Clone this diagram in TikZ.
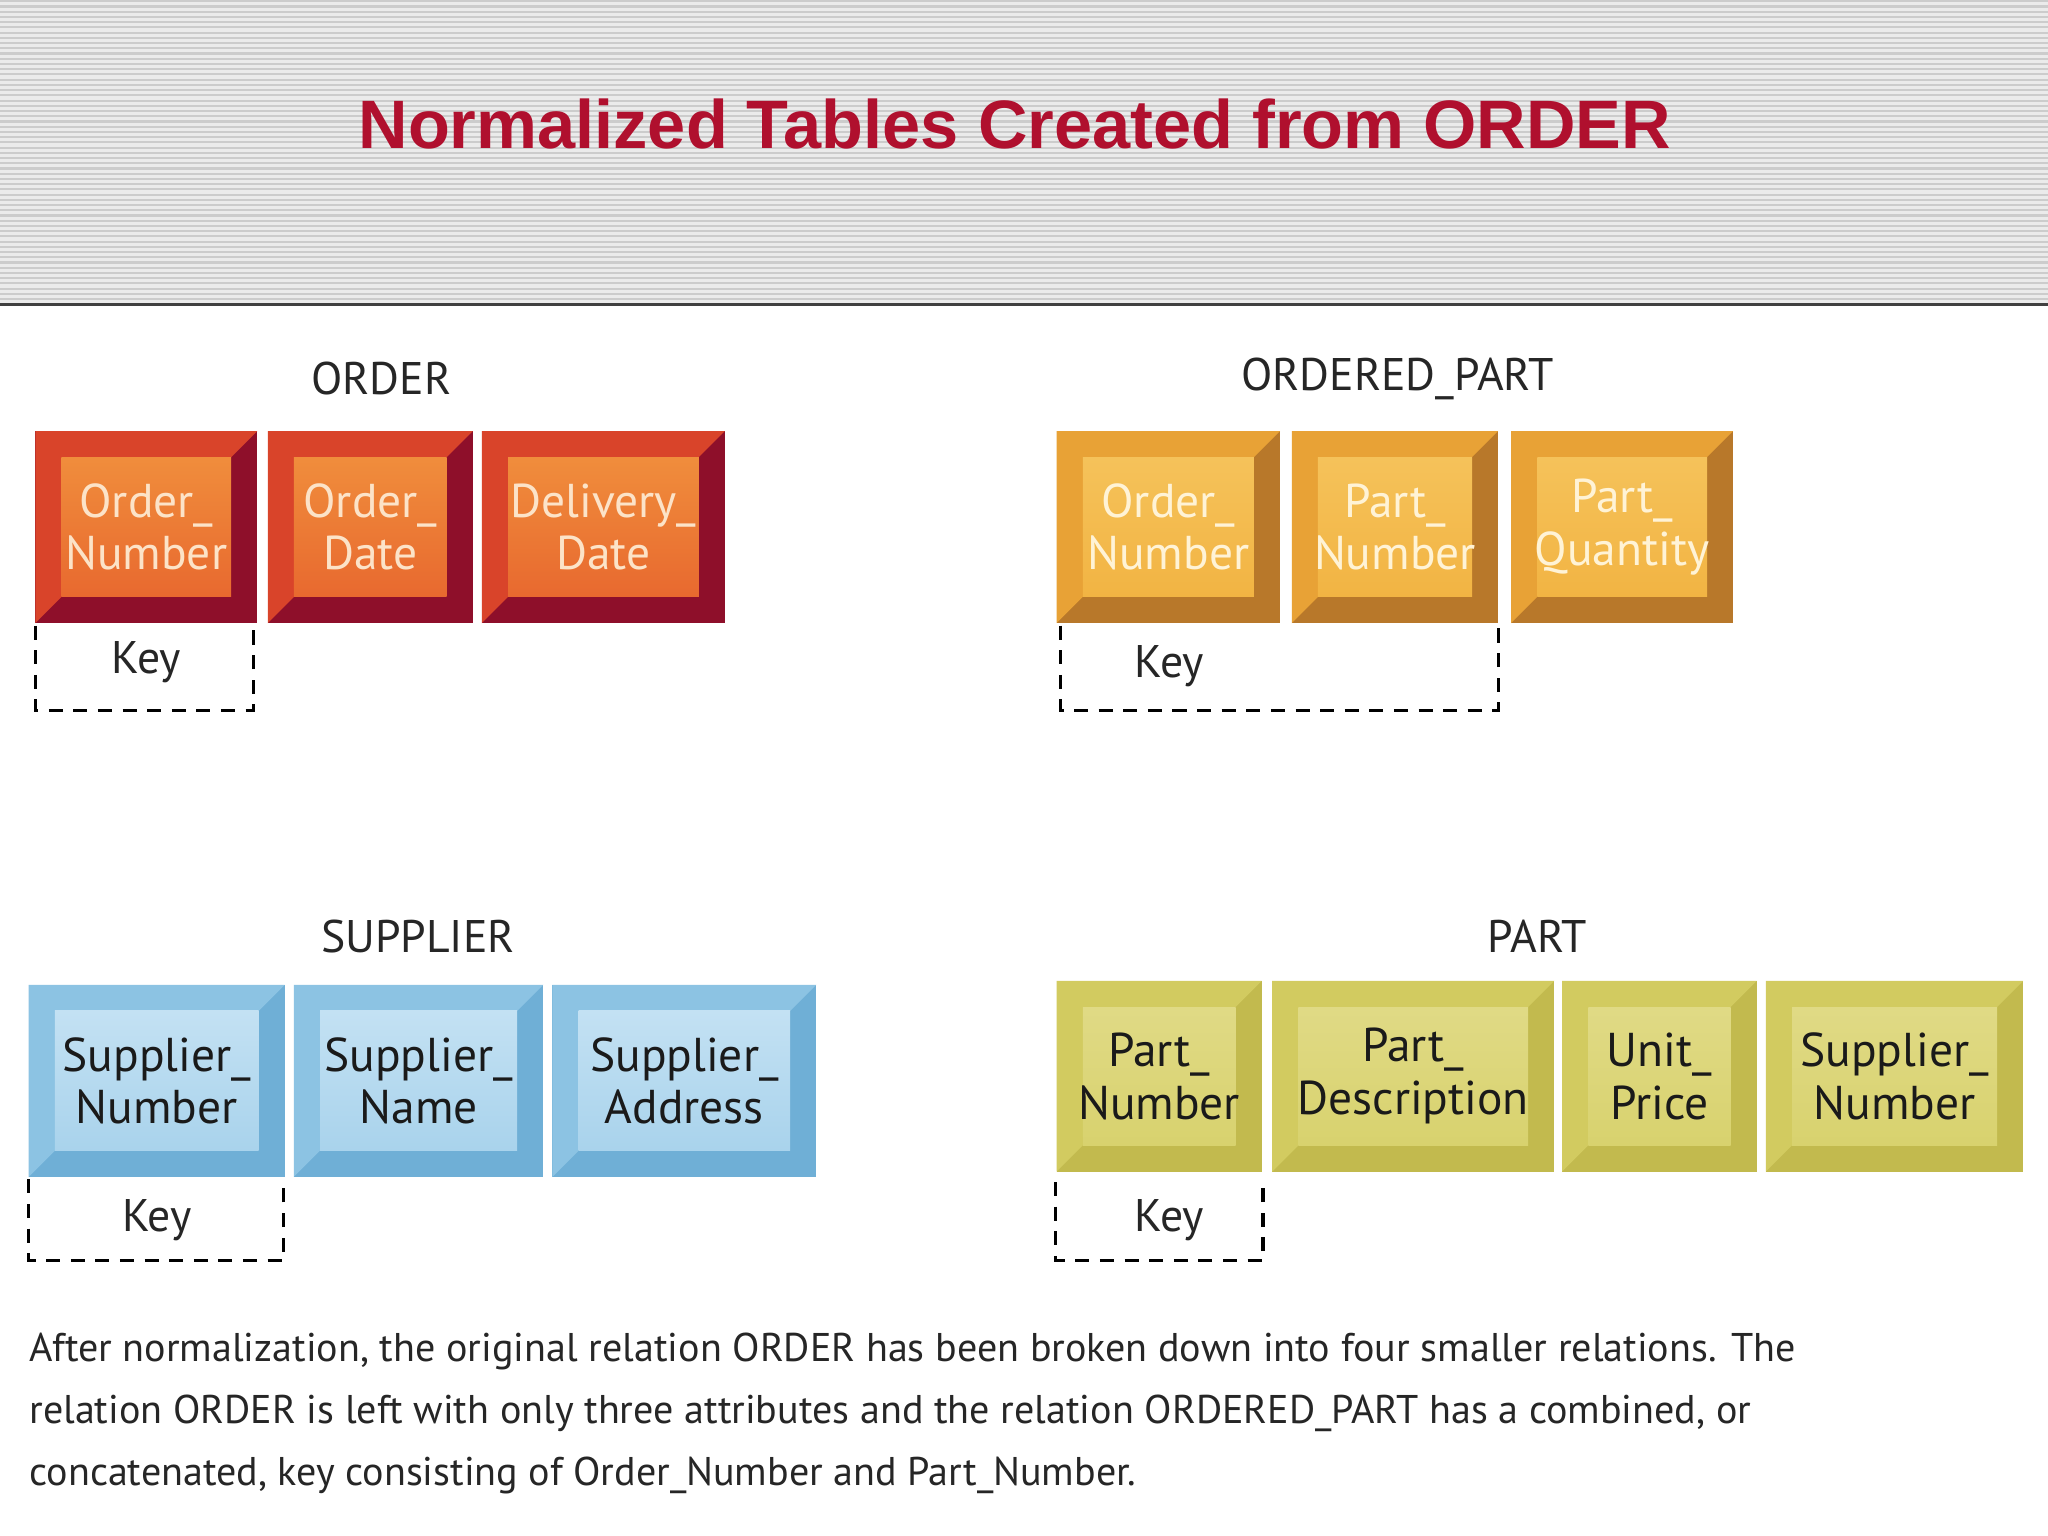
\documentclass[tikz,border=0pt]{standalone}
\usepackage{fontspec}
\setmainfont{PT Sans}
\newfontfamily\titlefont{Liberation Sans}
\definecolor{ttl}{HTML}{B0102E}
\definecolor{oD}{HTML}{8E0F2A}\definecolor{oL}{HTML}{D9442A}\definecolor{oF}{HTML}{E8692F}\definecolor{oF2}{HTML}{F08D3C}\definecolor{oT}{HTML}{FCE3C8}
\definecolor{yD}{HTML}{B8782A}\definecolor{yL}{HTML}{E8A236}\definecolor{yF}{HTML}{F2B443}\definecolor{yF2}{HTML}{F5C25A}\definecolor{yT}{HTML}{FFF3D6}
\definecolor{bD}{HTML}{6FAFD6}\definecolor{bL}{HTML}{8CC3E3}\definecolor{bF}{HTML}{A9D3EC}\definecolor{bF2}{HTML}{C3E1F3}\definecolor{bT}{HTML}{1A1A1A}
\definecolor{gD}{HTML}{C2BA4E}\definecolor{gL}{HTML}{D2CB60}\definecolor{gF}{HTML}{D8D26E}\definecolor{gF2}{HTML}{E0DA85}\definecolor{gT}{HTML}{1A1A1A}
\newcommand{\bevbox}[7]{% name x1 y1 x2 y2 prefix text
  \fill[#6D] (#2,#3) rectangle (#4,#5);
  \fill[#6L] (#2,#3) -- (#4,#3) -- (#4-20,#3+20) -- (#2+20,#5-20) -- (#2,#5) -- cycle;
  \shade[top color=#6F2,bottom color=#6F] (#2+20,#3+20) rectangle (#4-20,#5-20);
  \node[boxtxt,text=#6T] (#1) at ({(#2+#4)/2},{(#3+#5)/2}) {#7};}
\tikzset{boxtxt/.style={font=\fontsize{13.5}{15}\selectfont,align=center,inner sep=0pt},
 ttlbl/.style={font=\fontsize{13}{14}\selectfont,text=black!85},
 keybox/.style={draw,dashed,line width=0.9pt,dash pattern=on 4pt off 3pt},
 keytxt/.style={font=\fontsize{13}{14}\selectfont,text=black!85}}
\begin{document}
\begin{tikzpicture}[x=0.01306cm,y=-0.01306cm]
\useasboundingbox (0,0) rectangle (1568,1176);
\fill[white] (0,0) rectangle (1568,1176);
\fill[black!8] (0,0) rectangle (1568,232);
\foreach \yy in {1,5,...,229} \draw[black!20,line width=0.6pt] (0,\yy) -- (1568,\yy);
\draw[black!75,line width=1pt] (0,233) -- (1568,233);
\node[font=\titlefont\bfseries\fontsize{19.5}{21}\selectfont,text=ttl] (title) at (777,95) {Normalized Tables Created from ORDER};
% ORDER
\node[ttlbl] (tOrder) at (292,290) {ORDER};
\bevbox{o1}{27}{330}{197}{477}{o}{Order\_\\Number}
\bevbox{o2}{205}{330}{362}{477}{o}{Order\_\\Date}
\bevbox{o3}{369}{330}{555}{477}{o}{Delivery\_\\Date}
\draw[keybox] (27,479) -- (27,544) -- (194,544) -- (194,479);
\node[keytxt] (k1) at (112,507) {Key};
% ORDERED_PART
\node[ttlbl] (tOP) at (1070,290) {ORDERED\_PART};
\bevbox{p1}{809}{330}{980}{477}{y}{Order\_\\Number}
\bevbox{p2}{989}{330}{1147}{477}{y}{Part\_\\Number}
\bevbox{p3}{1157}{330}{1327}{477}{y}{Part\_\\Quantity}
\draw[keybox] (812,479) -- (812,544) -- (1147,544) -- (1147,479);
\node[keytxt] (k2) at (895,510) {Key};
% SUPPLIER
\node[ttlbl] (tS) at (320,717) {SUPPLIER};
\bevbox{s1}{22}{754}{218}{901}{b}{Supplier\_\\Number}
\bevbox{s2}{225}{754}{416}{901}{b}{Supplier\_\\Name}
\bevbox{s3}{423}{754}{625}{901}{b}{Supplier\_\\Address}
\draw[keybox] (22,903) -- (22,965) -- (217,965) -- (217,903);
\node[keytxt] (k3) at (120,934) {Key};
% PART
\node[ttlbl] (tP) at (1177,717) {PART};
\bevbox{q1}{809}{751}{966}{897}{g}{Part\_\\Number}
\bevbox{q2}{974}{751}{1190}{897}{g}{Part\_\\Description}
\bevbox{q3}{1196}{751}{1345}{897}{g}{Unit\_\\Price}
\bevbox{q4}{1352}{751}{1549}{897}{g}{Supplier\_\\Number}
\draw[keybox] (808,905) -- (808,965) -- (967,965) -- (967,905);
\node[keytxt] (k4) at (895,934) {Key};
% caption
\node[anchor=north west,align=left,inner sep=0pt,font=\fontsize{11.4}{17.6}\selectfont,text=black!85] (cap) at (22,1020)
{After normalization, the original relation ORDER has been broken down into four smaller relations. The\\
relation ORDER is left with only three attributes and the relation ORDERED\_PART has a combined, or\\
concatenated, key consisting of Order\_Number and Part\_Number.};
\end{tikzpicture}
\end{document}
